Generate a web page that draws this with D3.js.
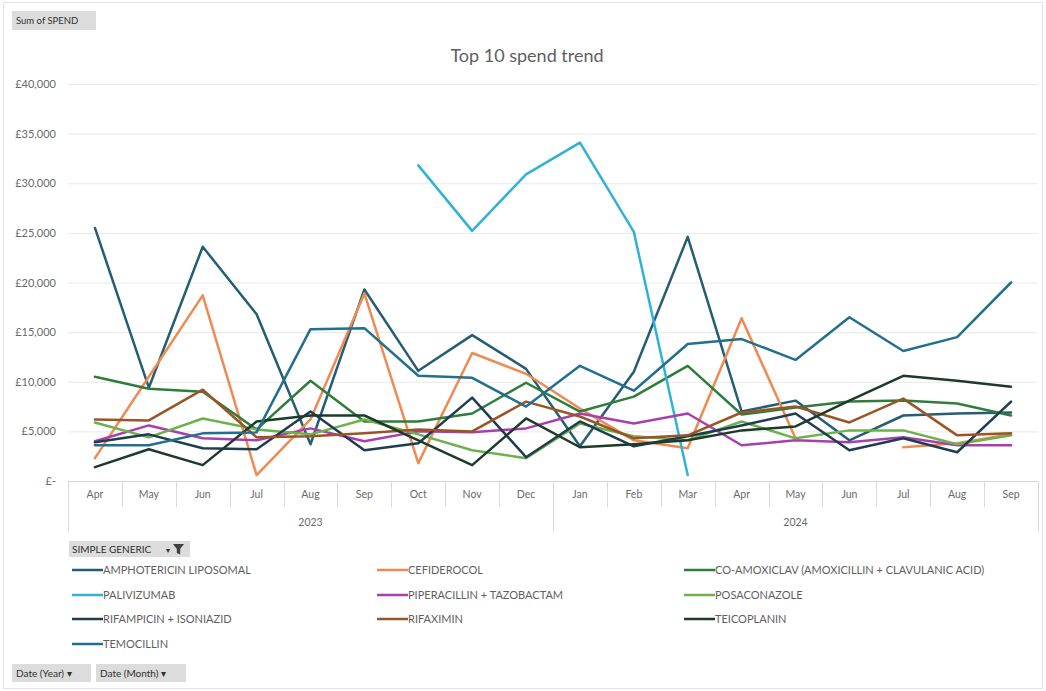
<!DOCTYPE html>
<html>
<head>
<meta charset="utf-8">
<script src="https://cdn.jsdelivr.net/npm/d3@7/dist/d3.min.js"></script>
<style>
  html, body { margin: 0; padding: 0; background: #fff; }
  svg { display: block; font-family: Lato, "Open Sans", "Liberation Sans", sans-serif; }
</style>
</head>
<body>
<svg id="chart" width="1046" height="691"></svg>
<script>
// ---------- DATA ----------
const months = ["Apr","May","Jun","Jul","Aug","Sep","Oct","Nov","Dec","Jan","Feb","Mar","Apr","May","Jun","Jul","Aug","Sep"];
const years = [
  { label: "2023", start: 0, end: 8 },
  { label: "2024", start: 9, end: 17 }
];
const yTicks = [0, 5000, 10000, 15000, 20000, 25000, 30000, 35000, 40000];

const amphotericin = [25500, 9400, 23600, 16800, 3700, 19300, 11100, 14700, 11300, 3500, 11000, 24600, 7000, 8100, 4100, 6600, 6800, 6900];
const cefiderocol  = [2300, 10500, 18700, 600, 6200, 18900, 1800, 12900, 10800, 7300, 4100, 3300, 16400, 4300, null, 3400, 3800, 4700];
const coamoxiclav  = [10500, 9300, 9000, 5200, 10100, 6000, 6000, 6800, 9900, 7000, 8500, 11600, 6700, 7400, 8000, 8100, 7800, 6600];
const palivizumab  = [null, null, null, null, null, null, 31800, 25200, 30900, 34100, 25100, 600, null, null, null, null, null, null];
const piperacillin = [4000, 5600, 4300, 4100, 5300, 4000, 5000, 4900, 5300, 6800, 5800, 6800, 3600, 4100, 3900, 4400, 3600, 3600];
const posaconazole = [5900, 4400, 6300, 5200, 4700, 6200, 4700, 3100, 2300, 5800, 4500, 4100, 6000, 4300, 5100, 5100, 3700, 4600];
const rifampicin   = [3900, 4700, 3300, 3200, 7000, 3100, 3800, 8400, 2400, 6000, 3500, 4500, 5600, 6800, 3100, 4300, 2900, 8000];
const rifaximin    = [6200, 6100, 9200, 4400, 4500, 4800, 5200, 5000, 8000, 6500, 4300, 4600, 6900, 7500, 5900, 8300, 4600, 4800];
const teicoplanin  = [1400, 3200, 1600, 6000, 6600, 6600, 4100, 1600, 6300, 3400, 3700, 4100, 5100, 5500, 8100, 10600, 10100, 9500];
const temocillin   = [3600, 3600, 4800, 4900, 15300, 15400, 10600, 10400, 7500, 11600, 9100, 13800, 14300, 12200, 16500, 13100, 14500, 20000];

const seriesNames = [
  "AMPHOTERICIN LIPOSOMAL", "CEFIDEROCOL", "CO-AMOXICLAV (AMOXICILLIN + CLAVULANIC ACID)",
  "PALIVIZUMAB", "PIPERACILLIN + TAZOBACTAM", "POSACONAZOLE",
  "RIFAMPICIN + ISONIAZID", "RIFAXIMIN", "TEICOPLANIN",
  "TEMOCILLIN"
];
const seriesValues = [amphotericin, cefiderocol, coamoxiclav, palivizumab, piperacillin, posaconazole, rifampicin, rifaximin, teicoplanin, temocillin];
const seriesColors = ["#255e74", "#ef8a52", "#2f7d3c", "#2fb2d6", "#a83fae", "#6cb24a", "#1f3c50", "#9a5527", "#1d3b2b", "#236f8e"];

// ---------- LAYOUT ----------
const svg = d3.select("#chart");
const plotL = 68, plotR = 1038, plotT = 84, plotB = 481;
const textColor = "#5f5f5f";

// outer border
svg.append("rect").attr("x", 3.5).attr("y", 2.5).attr("width", 1039).attr("height", 686)
  .attr("fill", "none").attr("stroke", "#e3e3e3");

const x = d3.scaleBand().domain(d3.range(months.length)).range([plotL, plotR]);
const xc = i => x(i) + x.bandwidth() / 2;
const y = d3.scaleLinear().domain([0, 40000]).range([plotB, plotT]);

// field buttons
const btn = (bx, by, w, h, label, fs) => {
  const g = svg.append("g");
  g.append("rect").attr("x", bx).attr("y", by).attr("width", w).attr("height", h).attr("fill", "#dcdcdc");
  g.append("text").attr("x", bx + 4).attr("y", by + h / 2 + 3.5).attr("font-size", fs || 10).attr("fill", "#303030").text(label);
  return g;
};
btn(12, 11, 84, 19, "Sum of SPEND", 9.5);

// Title
svg.append("text").attr("x", 527).attr("y", 62).attr("text-anchor", "middle")
  .attr("font-size", 18).attr("fill", textColor).text("Top 10 spend trend");

// Gridlines + y labels
const yAxis = d3.axisLeft(y).tickValues(yTicks)
  .tickSize(-(plotR - plotL)).tickPadding(12)
  .tickFormat(v => v === 0 ? "£-" : "£" + d3.format(",")(v));
const gy = svg.append("g").attr("transform", `translate(${plotL},0)`).call(yAxis);
gy.select(".domain").remove();
gy.selectAll(".tick line").attr("stroke", d => d === 0 ? "#d6d6d6" : "#e8e8e8").attr("stroke-width", 1);
gy.selectAll(".tick text").attr("font-size", 11).attr("fill", "#6a6a6a").attr("font-family", "Lato, sans-serif");

// Category axis: month labels
const xAxis = d3.axisBottom(x).tickSize(0).tickPadding(10).tickFormat(i => months[i]);
const gx = svg.append("g").attr("transform", `translate(0,${plotB})`).call(xAxis);
gx.select(".domain").remove();
gx.selectAll(".tick text").attr("font-size", 10.5).attr("fill", "#6a6a6a").attr("font-family", "Lato, sans-serif");

// separators
const sep = svg.append("g").attr("stroke", "#d9d9d9").attr("stroke-width", 1);
d3.range(months.length + 1).forEach(i => {
  const xx = i < months.length ? x(i) : x(months.length - 1) + x.bandwidth();
  const isYear = years.some(yr => yr.start === i) || i === months.length;
  sep.append("line").attr("x1", Math.round(xx) + 0.5).attr("x2", Math.round(xx) + 0.5)
    .attr("y1", plotB).attr("y2", isYear ? plotB + 51 : plotB + 26);
});
// year labels
years.forEach(yr => {
  const cx = (x(yr.start) + x(yr.end) + x.bandwidth()) / 2;
  svg.append("text").attr("x", cx).attr("y", plotB + 45).attr("text-anchor", "middle")
    .attr("font-size", 10.5).attr("fill", "#6a6a6a").text(yr.label);
});

// Lines
const line = d3.line().defined(d => d != null).x((d, i) => xc(i)).y(d => y(d));
const gl = svg.append("g");
seriesValues.forEach((vals, k) => {
  gl.append("path").datum(vals).attr("d", line)
    .attr("fill", "none").attr("stroke", seriesColors[k])
    .attr("stroke-width", 2.5).attr("stroke-linejoin", "round").attr("stroke-linecap", "round");
});

// Legend header button
const lg = svg.append("g");
lg.append("rect").attr("x", 69).attr("y", 541).attr("width", 121).attr("height", 16).attr("fill", "#dcdcdc");
lg.append("text").attr("x", 72).attr("y", 553).attr("font-size", 10).attr("fill", "#303030").text("SIMPLE GENERIC");
lg.append("text").attr("x", 166).attr("y", 553).attr("font-size", 8).attr("fill", "#303030").text("▾");
lg.append("path").attr("d", "M173,544 L184,544 L180.2,549 L180.2,554.5 L176.8,553 L176.8,549 Z").attr("fill", "#404040");

// Legend items
const colX = [72, 377, 684];
const rowY = [570, 595, 619, 644];
seriesNames.forEach((name, k) => {
  const c = k % 3, r = Math.floor(k / 3);
  const lx = colX[c], ly = rowY[r];
  svg.append("line").attr("x1", lx).attr("x2", lx + 31).attr("y1", ly).attr("y2", ly)
    .attr("stroke", seriesColors[k]).attr("stroke-width", 2.5);
  svg.append("text").attr("x", lx + 31).attr("y", ly + 4).attr("font-size", 11)
    .attr("fill", textColor).text(name);
});

// Bottom field buttons
btn(12, 664, 79, 18, "Date (Year) ▾", 10);
btn(96, 664, 90, 18, "Date (Month) ▾", 10);
</script>
</body>
</html>
